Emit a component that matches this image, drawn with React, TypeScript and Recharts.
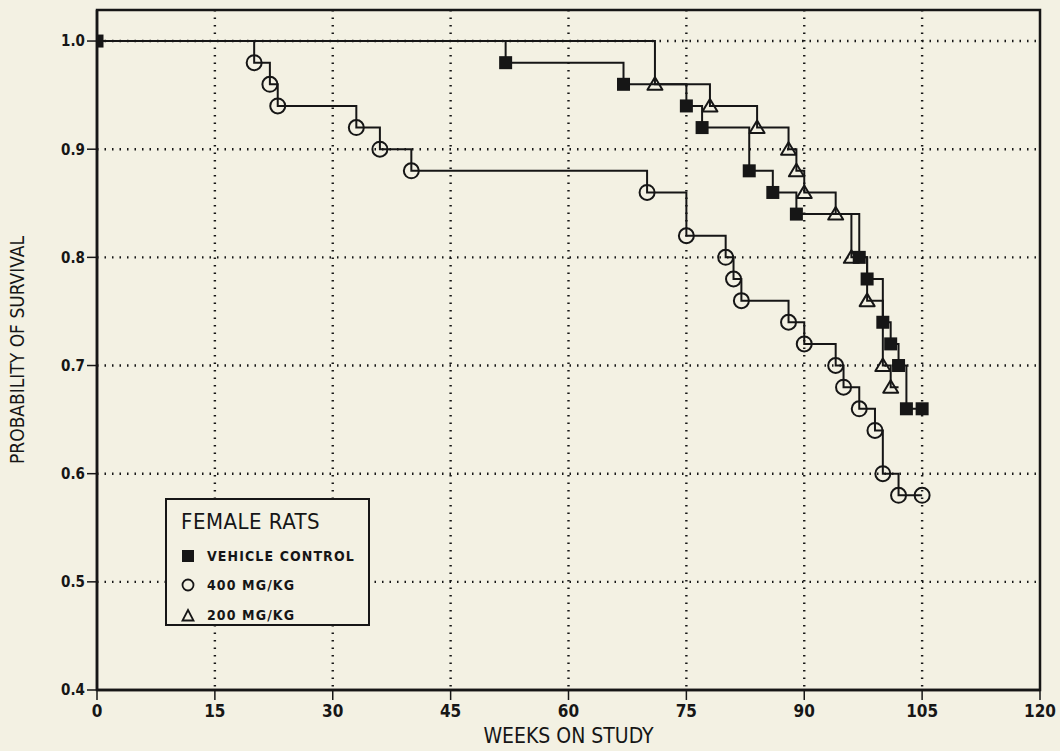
import React from 'react'
import {
  LineChart, Line, XAxis, YAxis, CartesianGrid, ReferenceArea, Label,
} from 'recharts'

// ── Kaplan-Meier data ────────────────────────────────────────
const controlWeeks = [0, 52, 67, 75, 77, 83, 86, 89, 97, 98, 100, 101, 102, 103, 105]
const controlSurv = [1.0, 0.98, 0.96, 0.94, 0.92, 0.88, 0.86, 0.84, 0.8, 0.78, 0.74, 0.72, 0.7, 0.66, 0.66]

const highWeeks = [0, 20, 22, 23, 33, 36, 40, 70, 75, 80, 81, 82, 88, 90, 94, 95, 97, 99, 100, 102, 105]
const highSurv = [1.0, 0.98, 0.96, 0.94, 0.92, 0.9, 0.88, 0.86, 0.82, 0.8, 0.78, 0.76, 0.74, 0.72, 0.7, 0.68, 0.66, 0.64, 0.6, 0.58, 0.58]

const lowWeeks = [0, 71, 78, 84, 88, 89, 90, 94, 96, 98, 100, 101, 102]
const lowSurv = [1.0, 0.96, 0.94, 0.92, 0.9, 0.88, 0.86, 0.84, 0.8, 0.76, 0.7, 0.68, 0.68]

const xTicks = [0, 15, 30, 45, 60, 75, 90, 105, 120]
const yTicks = [0.4, 0.5, 0.6, 0.7, 0.8, 0.9, 1.0]

const legendTitle = 'FEMALE RATS'
const legendItems = ['VEHICLE CONTROL', '400 MG/KG', '200 MG/KG']

const INK = '#161616'
const PAPER = '#f3f1e3'
const FONT = "'DejaVu Sans Condensed', 'DejaVu Sans', sans-serif"

const toRows = (weeks: number[], surv: number[]) => weeks.map((w, i) => ({ week: w, surv: surv[i] }))

// ── markers ───────────────────────────────────────────────────
function Square({ cx, cy }: { cx: number; cy: number }) {
  return <rect x={cx - 6.5} y={cy - 6.5} width={13} height={13} fill={INK} />
}
function Circle({ cx, cy }: { cx: number; cy: number }) {
  return <circle cx={cx} cy={cy} r={7.5} fill="none" stroke={INK} strokeWidth={2} />
}
function Triangle({ cx, cy }: { cx: number; cy: number }) {
  return (
    <polygon
      points={`${cx - 7.5},${cy + 5.5} ${cx + 7.5},${cy + 5.5} ${cx},${cy - 7}`}
      fill="none" stroke={INK} strokeWidth={2} strokeLinejoin="round"
    />
  )
}

const dotFor = (Shape: typeof Square, skipFirst: boolean, skipLast: boolean, total: number) =>
  (p: any) => {
    const hide = (skipFirst && p.index === 0) || (skipLast && p.index === total - 1)
    return <g key={`d-${p.index}`}>{hide ? null : <Shape cx={p.cx} cy={p.cy} />}</g>
  }

// ── legend box (drawn over the plot, like the original) ──────
function LegendBox() {
  const icons = [
    <svg key="a" width={14} height={14}><rect x={1} y={1} width={12} height={12} fill={INK} /></svg>,
    <svg key="b" width={14} height={14}><circle cx={7} cy={7} r={5.5} fill="none" stroke={INK} strokeWidth={1.8} /></svg>,
    <svg key="c" width={14} height={14}><polygon points="1.5,12.5 12.5,12.5 7,2" fill="none" stroke={INK} strokeWidth={1.8} /></svg>,
  ]
  return (
    <div style={{
      position: 'absolute', left: 165, top: 498,
      width: 205, height: 128, border: `2px solid ${INK}`, background: PAPER,
      fontFamily: FONT, color: INK, padding: '8px 0 0 14px', boxSizing: 'border-box',
    }}>
      <div style={{ fontSize: 22, lineHeight: '28px', marginBottom: 5, letterSpacing: 0.5 }}>{legendTitle}</div>
      {legendItems.map((t, i) => (
        <div key={t} style={{ display: 'flex', alignItems: 'center', height: 29.5 }}>
          {icons[i]}
          <span style={{ marginLeft: 12, fontSize: 14, fontWeight: 700, letterSpacing: 1.1 }}>{t}</span>
        </div>
      ))}
    </div>
  )
}

export default function App() {
  const control = toRows(controlWeeks, controlSurv)
  const high = toRows(highWeeks, highSurv)
  const low = toRows(lowWeeks, lowSurv)

  return (
    <div style={{ position: 'absolute', left: 0, top: 0, width: 1060, height: 751, background: PAPER }}>
      <LineChart width={1060} height={751} margin={{ top: 10, right: 20, bottom: 21, left: 37 }}>
        <CartesianGrid
          stroke={INK} strokeWidth={2.4} strokeDasharray="1.5 6"
          horizontalValues={[0.5, 0.6, 0.7, 0.8, 0.9, 1.0]}
          verticalValues={[15, 30, 45, 60, 75, 90, 105]}
        />
        <XAxis
          type="number" dataKey="week" domain={[0, 120]} ticks={xTicks} allowDataOverflow
          axisLine={{ stroke: INK, strokeWidth: 2.5 }} tickLine={{ stroke: INK, strokeWidth: 1.5 }} tickSize={10}
          tickMargin={5}
          tick={{ fill: INK, fontSize: 17, fontWeight: 700, fontFamily: FONT }} height={40}
        >
          <Label value="WEEKS ON STUDY" position="insideBottom" offset={-13}
            style={{ fill: INK, fontSize: 21, fontFamily: FONT }} />
        </XAxis>
        <YAxis
          type="number" domain={[0.4, 1.0287]} ticks={yTicks} allowDataOverflow
          tickFormatter={(v: number) => v.toFixed(1)}
          axisLine={{ stroke: INK, strokeWidth: 2.5 }} tickLine={{ stroke: INK, strokeWidth: 1.5 }} tickSize={10}
          tick={{ fill: INK, fontSize: 15, fontWeight: 700, fontFamily: FONT }} width={60}
        >
          <Label value="PROBABILITY OF SURVIVAL" angle={-90} position="insideLeft" offset={-20}
            style={{ fill: INK, fontSize: 19, fontFamily: FONT, textAnchor: 'middle' }} />
        </YAxis>
        <ReferenceArea x1={0} x2={120} y1={0.4} y2={1.0287} fill="none" stroke={INK} strokeWidth={2.5} />
        <Line
          data={high} dataKey="surv" type="stepAfter" stroke={INK} strokeWidth={2}
          dot={dotFor(Circle, true, false, high.length)} activeDot={false} isAnimationActive={false}
        />
        <Line
          data={low} dataKey="surv" type="stepAfter" stroke={INK} strokeWidth={2}
          dot={dotFor(Triangle, true, true, low.length)} activeDot={false} isAnimationActive={false}
        />
        <Line
          data={control} dataKey="surv" type="stepAfter" stroke={INK} strokeWidth={2}
          dot={dotFor(Square, false, false, control.length)} activeDot={false} isAnimationActive={false}
        />
      </LineChart>
      <LegendBox />
    </div>
  )
}
